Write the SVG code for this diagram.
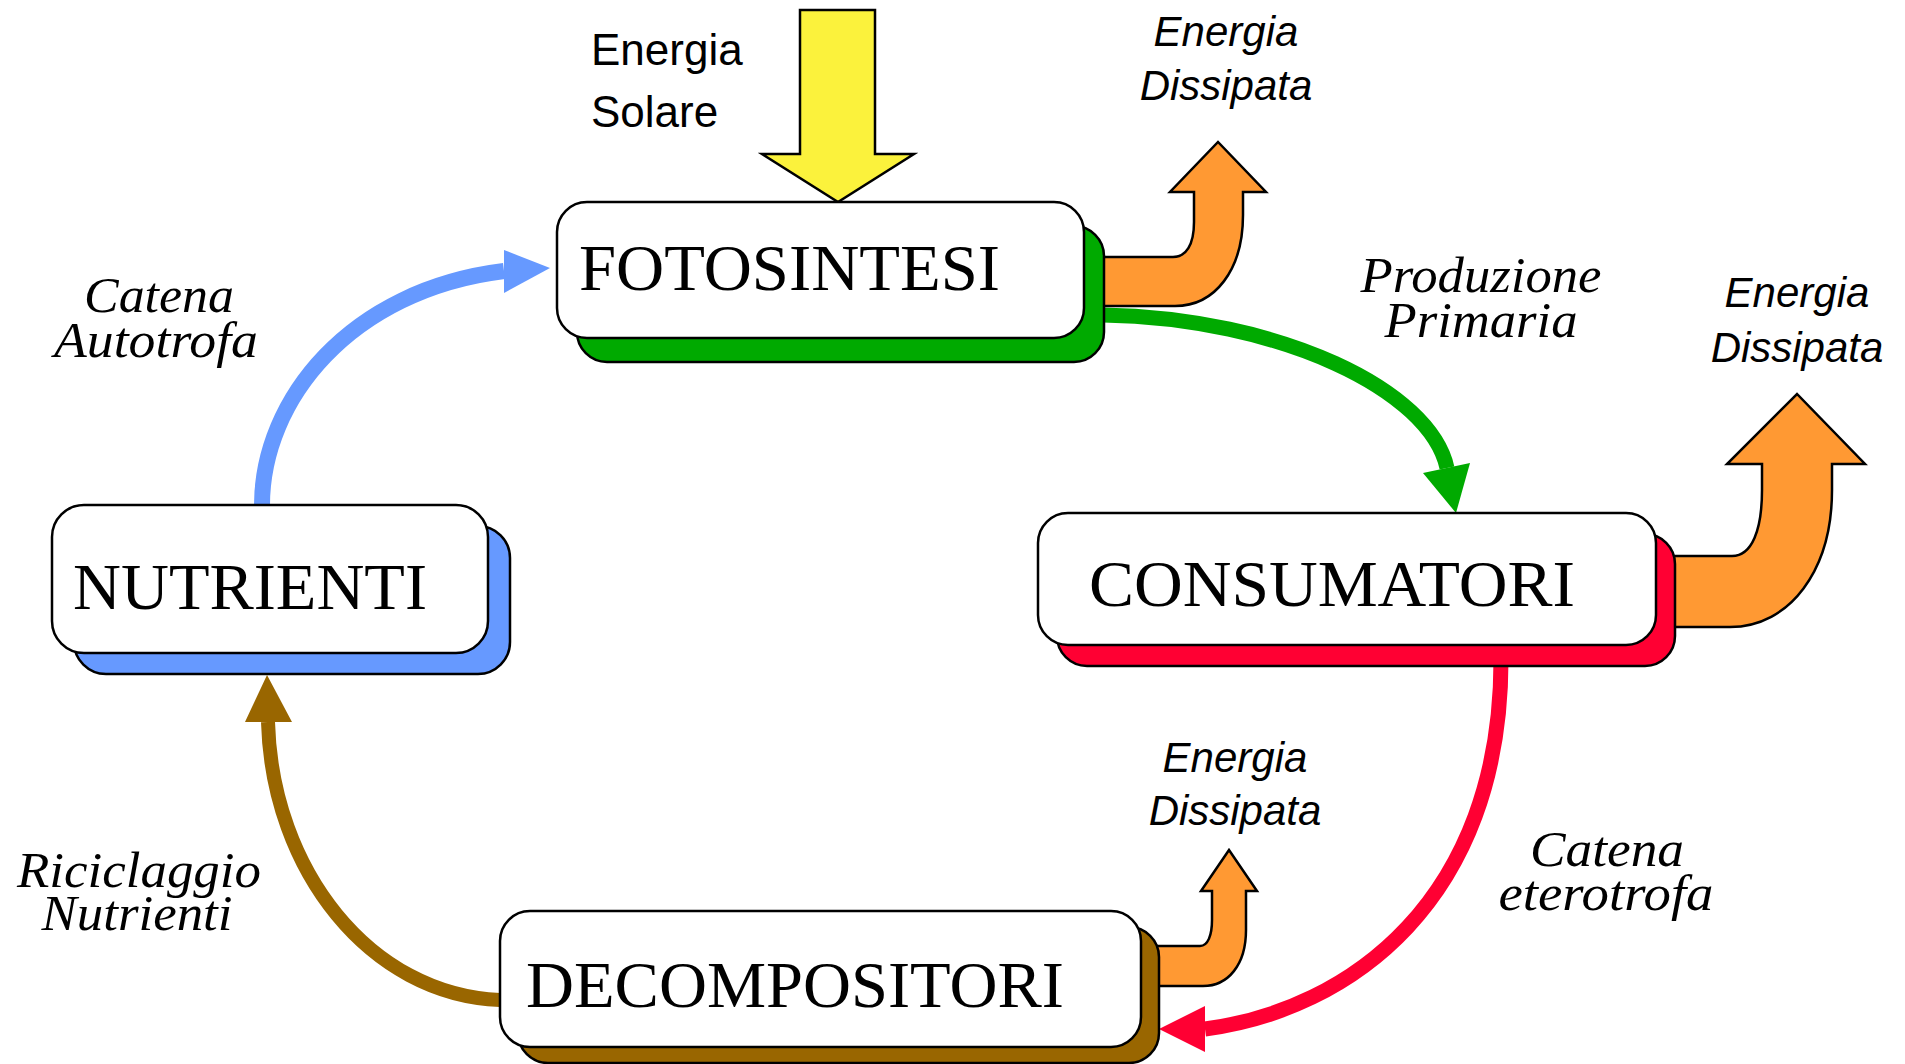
<svg xmlns="http://www.w3.org/2000/svg" width="1905" height="1064" viewBox="0 0 1905 1064">
<style>
.box{fill:#ffffff;stroke:#000;stroke-width:2.5}
.sh{stroke:#000;stroke-width:2.5}
.node{font-family:"Liberation Serif","Times New Roman",serif;font-size:65px;fill:#000}
.lbl{font-family:"Liberation Serif","Times New Roman",serif;font-style:italic;font-size:50px;fill:#000;text-anchor:middle}
.en{font-family:"Liberation Sans",Arial,sans-serif;font-style:italic;font-size:42px;fill:#000;text-anchor:middle}
.sol{font-family:"Liberation Sans",Arial,sans-serif;font-size:44px;fill:#000}
.orange{fill:#FF9933;stroke:#000;stroke-width:2.5;stroke-linejoin:miter}
.conn{fill:none}
</style>
<rect width="1905" height="1064" fill="#ffffff"/>

<g id="connectors">
  <path class="conn" d="M1103,315 C1280,318 1430,390 1447,468" stroke="#00AA00" stroke-width="15"/>
  <polygon points="1423,473 1456,513 1470,463" fill="#00AA00"/>
  <path class="conn" d="M262,505 C262,400 350,290 504,271" stroke="#6699FF" stroke-width="16"/>
  <polygon points="504,250 550,268 504,293" fill="#6699FF"/>
  <path class="conn" d="M500,1000 C370,995 272,870 268,722" stroke="#996600" stroke-width="14"/>
  <polygon points="245,722 267,675 292,722" fill="#996600"/>
  <path class="conn" d="M1501,660 C1501,900 1350,1010 1205,1029" stroke="#FF0033" stroke-width="15"/>
  <polygon points="1205,1006 1159,1029 1205,1052" fill="#FF0033"/>
</g>

<g id="energy-arrows">
  <path id="solar-arrow" d="M800,10 L875,10 L875,154 L914,154 L838,202 L762,154 L800,154 Z" fill="#FBF23C" stroke="#000" stroke-width="2.5"/>
  <path id="dissip-1" class="orange" d="M1090,257 L1173,257 C1186,257 1194,245 1194,222 L1194,192 L1170,192 L1218,142 L1266,192 L1243,192 L1243,215 C1243,270 1215,306 1175,306 L1090,306 Z"/>
  <path id="dissip-2" class="orange" d="M1660,556 L1732,556 C1752,556 1762,530 1762,490 L1762,464 L1727,464 L1797,394 L1865,464 L1832,464 L1832,490 C1832,570 1790,627 1730,627 L1660,627 Z"/>
  <path id="dissip-3" class="orange" d="M1145,946 L1200,946 C1208,946 1212,935 1212,920 L1212,891 L1201,891 L1229,850 L1257,891 L1246,891 L1246,930 C1246,965 1228,986 1203,986 L1145,986 Z"/>
</g>

<g id="fotosintesi">
  <rect class="sh" x="577" y="226" width="527" height="136" rx="30" fill="#00AA00"/>
  <rect class="box" x="557" y="202" width="527" height="136" rx="30"/>
  <text class="node" x="579" y="290" textLength="421" lengthAdjust="spacingAndGlyphs">FOTOSINTESI</text>
</g>

<g id="consumatori">
  <rect class="sh" x="1057" y="534" width="618" height="132" rx="30" fill="#FF0033"/>
  <rect class="box" x="1038" y="513" width="618" height="132" rx="30"/>
  <text class="node" x="1089" y="606" textLength="486" lengthAdjust="spacingAndGlyphs">CONSUMATORI</text>
</g>

<g id="nutrienti">
  <rect class="sh" x="74" y="526" width="436" height="148" rx="32" fill="#6699FF"/>
  <rect class="box" x="52" y="505" width="436" height="148" rx="32"/>
  <text class="node" x="73" y="609" textLength="354" lengthAdjust="spacingAndGlyphs">NUTRIENTI</text>
</g>

<g id="decompositori">
  <rect class="sh" x="518" y="927" width="641" height="136" rx="30" fill="#996600"/>
  <rect class="box" x="500" y="911" width="641" height="136" rx="30"/>
  <text class="node" x="526" y="1007" textLength="538" lengthAdjust="spacingAndGlyphs">DECOMPOSITORI</text>
</g>

<g id="labels">
  <text class="sol" x="591" y="65">Energia</text>
  <text class="sol" x="591" y="127">Solare</text>
  <text class="en" x="1226" y="46">Energia</text>
  <text class="en" x="1226" y="100">Dissipata</text>
  <text class="en" x="1797" y="307">Energia</text>
  <text class="en" x="1797" y="362">Dissipata</text>
  <text class="en" x="1235" y="772">Energia</text>
  <text class="en" x="1235" y="825">Dissipata</text>
  <text class="lbl" x="1481" y="292" textLength="241" lengthAdjust="spacingAndGlyphs">Produzione</text>
  <text class="lbl" x="1481" y="337" textLength="193" lengthAdjust="spacingAndGlyphs">Primaria</text>
  <text class="lbl" x="159" y="312" textLength="150" lengthAdjust="spacingAndGlyphs">Catena</text>
  <text class="lbl" x="156" y="357" textLength="204" lengthAdjust="spacingAndGlyphs">Autotrofa</text>
  <text class="lbl" x="1607" y="866" textLength="154" lengthAdjust="spacingAndGlyphs">Catena</text>
  <text class="lbl" x="1606" y="910" textLength="215" lengthAdjust="spacingAndGlyphs">eterotrofa</text>
  <text class="lbl" x="139" y="887" textLength="244" lengthAdjust="spacingAndGlyphs">Riciclaggio</text>
  <text class="lbl" x="137" y="930" textLength="191" lengthAdjust="spacingAndGlyphs">Nutrienti</text>
</g>
</svg>
